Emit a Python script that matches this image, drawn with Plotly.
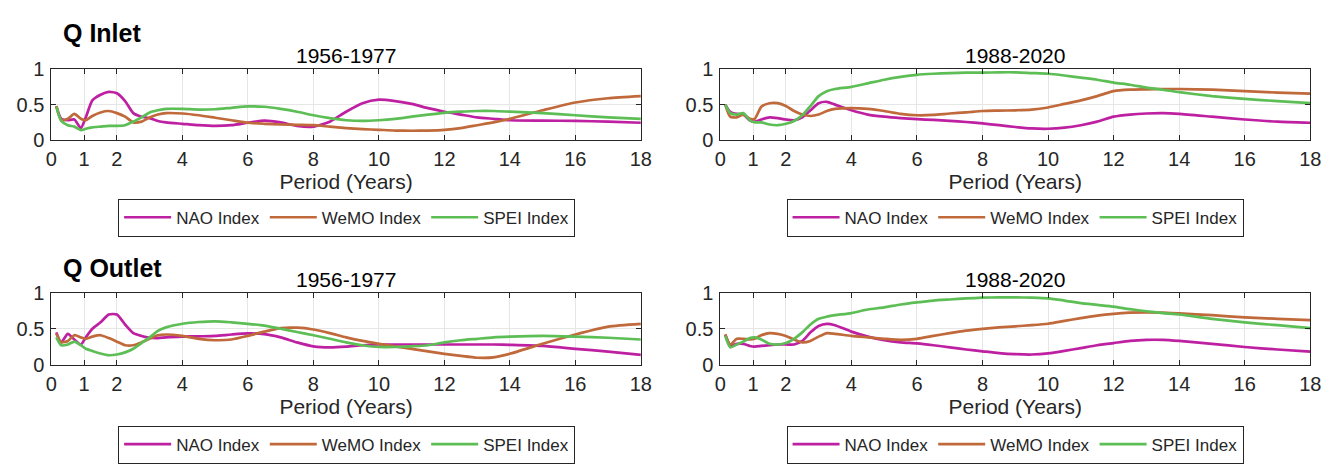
import plotly.graph_objects as go

# ---------------- data ----------------
period = [0.15, 0.3, 0.5, 0.7, 0.9, 1.05, 1.25, 1.5, 1.75, 2.0, 2.25, 2.5, 2.75, 3.0, 3.25, 3.5,
          4.0, 4.5, 5, 5.5, 6, 6.5, 7, 7.5, 8, 8.5, 9, 9.5, 10, 10.5, 11, 11.5, 12, 12.5, 13,
          13.5, 14, 15, 16, 17, 18]

# Q Inlet 1956-1977
inlet_early_nao = [0.48, 0.30, 0.28, 0.29, 0.17, 0.32, 0.56, 0.64, 0.68, 0.66, 0.55, 0.38, 0.33, 0.31,
                   0.27, 0.25, 0.23, 0.21, 0.20, 0.21, 0.245, 0.275, 0.25, 0.20, 0.19, 0.26, 0.40,
                   0.52, 0.57, 0.55, 0.51, 0.45, 0.40, 0.36, 0.32, 0.30, 0.28, 0.275, 0.27, 0.26, 0.245]
inlet_early_wemo = [0.48, 0.28, 0.30, 0.37, 0.30, 0.28, 0.34, 0.39, 0.41, 0.38, 0.33, 0.25, 0.26,
                    0.32, 0.36, 0.38, 0.375, 0.35, 0.315, 0.28, 0.245, 0.23, 0.22, 0.215, 0.21, 0.19,
                    0.17, 0.155, 0.145, 0.135, 0.132, 0.135, 0.145, 0.17, 0.21, 0.25, 0.30, 0.42,
                    0.53, 0.59, 0.62]
inlet_early_spei = [0.47, 0.27, 0.21, 0.19, 0.14, 0.16, 0.18, 0.19, 0.20, 0.20, 0.21, 0.26, 0.32,
                    0.39, 0.42, 0.44, 0.44, 0.43, 0.435, 0.455, 0.475, 0.47, 0.44, 0.40, 0.35, 0.31,
                    0.28, 0.27, 0.28, 0.30, 0.33, 0.36, 0.385, 0.40, 0.41, 0.41, 0.40, 0.38, 0.35,
                    0.32, 0.30]

# Q Inlet 1988-2020
inlet_late_nao = [0.50, 0.40, 0.37, 0.36, 0.28, 0.26, 0.29, 0.32, 0.31, 0.29, 0.28, 0.32, 0.42, 0.52,
                  0.54, 0.50, 0.42, 0.36, 0.33, 0.31, 0.295, 0.285, 0.27, 0.255, 0.235, 0.21, 0.185,
                  0.165, 0.16, 0.175, 0.21, 0.26, 0.33, 0.36, 0.375, 0.38, 0.37, 0.33, 0.29, 0.26,
                  0.245]
inlet_late_wemo = [0.50, 0.33, 0.32, 0.36, 0.30, 0.30, 0.47, 0.52, 0.52, 0.48, 0.41, 0.36, 0.34,
                   0.36, 0.41, 0.44, 0.45, 0.44, 0.41, 0.37, 0.35, 0.355, 0.375, 0.39, 0.41, 0.415,
                   0.42, 0.43, 0.46, 0.51, 0.56, 0.62, 0.69, 0.71, 0.715, 0.72, 0.72, 0.71, 0.69,
                   0.67, 0.655]
inlet_late_spei = [0.50, 0.38, 0.36, 0.38, 0.28, 0.25, 0.25, 0.22, 0.21, 0.23, 0.27, 0.35, 0.48,
                   0.62, 0.69, 0.72, 0.75, 0.80, 0.85, 0.89, 0.92, 0.935, 0.945, 0.95, 0.95, 0.955,
                   0.955, 0.945, 0.935, 0.91, 0.88, 0.85, 0.81, 0.78, 0.74, 0.71, 0.675, 0.62, 0.58,
                   0.55, 0.52]

# Q Outlet 1956-1977
outlet_early_nao = [0.45, 0.31, 0.43, 0.35, 0.28, 0.38, 0.50, 0.59, 0.70, 0.70, 0.56, 0.44, 0.40,
                    0.375, 0.37, 0.38, 0.39, 0.395, 0.40, 0.42, 0.435, 0.425, 0.38, 0.31, 0.255, 0.24,
                    0.25, 0.27, 0.28, 0.28, 0.28, 0.28, 0.28, 0.28, 0.28, 0.28, 0.275, 0.26, 0.22,
                    0.18, 0.135]
outlet_early_wemo = [0.43, 0.31, 0.33, 0.41, 0.38, 0.36, 0.39, 0.41, 0.37, 0.32, 0.27, 0.27, 0.31,
                     0.36, 0.41, 0.42, 0.40, 0.36, 0.34, 0.35, 0.40, 0.46, 0.51, 0.515, 0.49, 0.44,
                     0.38, 0.33, 0.29, 0.255, 0.22, 0.185, 0.15, 0.12, 0.095, 0.10, 0.15, 0.29, 0.42,
                     0.53, 0.57]
outlet_early_spei = [0.38, 0.27, 0.28, 0.32, 0.27, 0.22, 0.19, 0.155, 0.13, 0.14, 0.17, 0.22, 0.30,
                     0.38, 0.47, 0.52, 0.57, 0.595, 0.605, 0.59, 0.57, 0.545, 0.50, 0.455, 0.41, 0.36,
                     0.31, 0.27, 0.245, 0.245, 0.255, 0.27, 0.31, 0.34, 0.36, 0.38, 0.39, 0.40, 0.39,
                     0.375, 0.35]

# Q Outlet 1988-2020
outlet_late_nao = [0.42, 0.27, 0.29, 0.29, 0.26, 0.25, 0.26, 0.27, 0.28, 0.28, 0.28, 0.33, 0.45, 0.54,
                   0.57, 0.55, 0.46, 0.39, 0.34, 0.31, 0.295, 0.27, 0.24, 0.21, 0.185, 0.16, 0.145,
                   0.14, 0.155, 0.19, 0.23, 0.27, 0.30, 0.33, 0.345, 0.345, 0.33, 0.29, 0.245, 0.21,
                   0.18]
outlet_late_wemo = [0.42, 0.28, 0.36, 0.36, 0.35, 0.36, 0.41, 0.44, 0.43, 0.40, 0.35, 0.31, 0.33,
                    0.39, 0.44, 0.43, 0.40, 0.38, 0.36, 0.345, 0.36, 0.40, 0.44, 0.475, 0.50, 0.52,
                    0.535, 0.55, 0.57, 0.61, 0.65, 0.685, 0.71, 0.725, 0.73, 0.725, 0.715, 0.69, 0.66,
                    0.64, 0.62]
outlet_late_spei = [0.40, 0.24, 0.28, 0.32, 0.37, 0.38, 0.35, 0.29, 0.28, 0.30, 0.36, 0.45, 0.56,
                    0.64, 0.67, 0.69, 0.72, 0.77, 0.80, 0.84, 0.87, 0.895, 0.91, 0.925, 0.935, 0.94,
                    0.94, 0.935, 0.925, 0.895, 0.86, 0.835, 0.81, 0.775, 0.745, 0.72, 0.70, 0.64,
                    0.59, 0.55, 0.51]

series_names = ["NAO Index", "WeMO Index", "SPEI Index"]
series_colors = ["#BE20A2", "#C0693A", "#5DBE56"]
panel_titles = ["1956-1977", "1988-2020", "1956-1977", "1988-2020"]
row_labels = ["Q Inlet", "Q Outlet"]
x_tick_vals = [0, 1, 2, 4, 6, 8, 10, 12, 14, 16, 18]
y_tick_vals = [0, 0.5, 1]
y_tick_text = ["0", "0.5", "1"]

panels = [
    [inlet_early_nao, inlet_early_wemo, inlet_early_spei],
    [inlet_late_nao, inlet_late_wemo, inlet_late_spei],
    [outlet_early_nao, outlet_early_wemo, outlet_early_spei],
    [outlet_late_nao, outlet_late_wemo, outlet_late_spei],
]

# ---------------- layout geometry (pixels) ----------------
W, H = 1342, 467
FONT = "Liberation Sans, Arial, Helvetica, sans-serif"
TXT = "#262626"

x_px = [(46, 643), (723.5, 1321)]
y_px = [(61, 135.5), (296, 371)]
title_y = [47, 282]
label_y = [23, 270]
legend_top = [197, 435]

def xdom(i):
    a, b = x_px[i]
    return [a / W, b / W]

def ydom(j):
    a, b = y_px[j]
    return [1 - b / H, 1 - a / H]

fig = go.Figure()

annotations = []
for k, data in enumerate(panels):
    col, row = k % 2, k // 2
    ax = "" if k == 0 else str(k + 1)
    leg = "legend" if k == 0 else "legend" + str(k + 1)
    for s, vals in enumerate(data):
        fig.add_trace(go.Scatter(
            x=period, y=vals, mode="lines", name=series_names[s],
            line=dict(color=series_colors[s], width=2.7, shape="spline", smoothing=0.6),
            xaxis="x" + ax, yaxis="y" + ax, legend=leg, showlegend=True,
        ))
    axis_common = dict(
        showline=True, linecolor=TXT, linewidth=1, mirror="ticks",
        ticks="inside", ticklen=5, tickcolor=TXT, tickwidth=1,
        showgrid=True, gridcolor="#E6E6E6", gridwidth=1, zeroline=False,
        tickfont=dict(family=FONT, size=20, color=TXT),
    )
    fig.update_layout(**{
        "xaxis" + ax: dict(axis_common, domain=xdom(col), range=[0, 18], tickvals=x_tick_vals,
                           anchor="y" + ax, ticklabelstandoff=1,
                           title=dict(text="Period (Years)", standoff=5,
                                      font=dict(family=FONT, size=21, color=TXT))),
        "yaxis" + ax: dict(axis_common, domain=ydom(row), range=[0, 1], tickvals=y_tick_vals,
                           ticktext=y_tick_text, anchor="x" + ax, ticklabelstandoff=2),
    })
    xc = (x_px[col][0] + x_px[col][1]) / 2
    # panel title
    annotations.append(dict(
        text=panel_titles[k], x=xc / W, y=1 - title_y[row] / H, xref="paper", yref="paper",
        xanchor="center", yanchor="middle", showarrow=False,
        font=dict(family=FONT, size=21, color="#000000"),
    ))
    # legend
    legend_cfg = dict(
        orientation="h", x=(345 if col == 0 else 1022) / W, xanchor="center",
        y=1 - legend_top[row] / H, yanchor="top",
        bordercolor=TXT, borderwidth=1, bgcolor="white",
        font=dict(family=FONT, size=17, color=TXT), itemwidth=47,
        tracegroupgap=0,
    )
    fig.update_layout(**{leg: legend_cfg})

for r, lab in enumerate(row_labels):
    annotations.append(dict(
        text="<b>%s</b>" % lab, x=56 / W, y=1 - label_y[r] / H, xref="paper", yref="paper",
        xanchor="left", yanchor="middle", showarrow=False,
        font=dict(family=FONT, size=25, color="#000000"),
    ))

fig.update_layout(
    width=W, height=H, margin=dict(l=0, r=0, t=0, b=0),
    paper_bgcolor="white", plot_bgcolor="white",
    font=dict(family=FONT, color=TXT),
    annotations=annotations,
)

fig.write_html("out.html")
